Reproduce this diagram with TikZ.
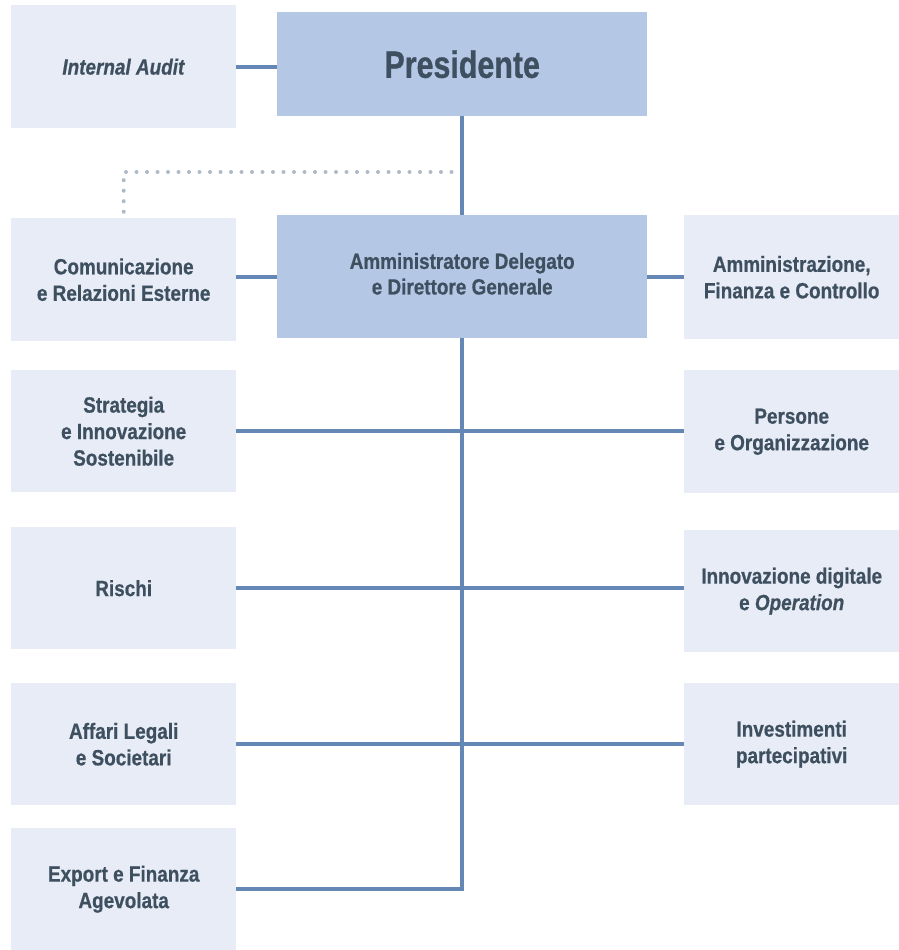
\documentclass[tikz,border=0pt]{standalone}
\usepackage{fontspec}
\setmainfont{Liberation Sans}[FakeStretch=0.86, BoldFeatures={FakeBold=0.6}, BoldItalicFeatures={FakeBold=0.6}]
\newfontfamily\titlefont{Liberation Sans}[FakeStretch=0.8, BoldFeatures={FakeBold=0.8}]
\usetikzlibrary{positioning}
\definecolor{boxlight}{HTML}{E7ECF6}
\definecolor{boxdark}{HTML}{B4C8E6}
\definecolor{linkblue}{HTML}{6487B5}
\definecolor{textslate}{HTML}{3E5060}
\definecolor{dotgrey}{HTML}{B0BAC4}
\tikzset{
  unit/.style={fill=boxlight, minimum width=225pt, minimum height=123pt, inner sep=0pt,
    anchor=north west, align=center, text=textslate, font=\bfseries\fontsize{22}{26.5}\selectfont},
  unitright/.style={unit, minimum width=215pt},
  head/.style={unit, fill=boxdark, minimum width=370pt},
  link/.style={linkblue, line width=4pt},
  staff/.style={dotgrey, line width=4pt, line cap=round, dash pattern=on 0pt off 10.5pt}
}

\begin{document}
\begin{tikzpicture}[x=1pt,y=-1pt]
\useasboundingbox (0,0) rectangle (899,950);
% top level
\node[head, minimum height=104pt, font=\titlefont\bfseries\fontsize{38}{44}\selectfont](pres) at (277,12){Presidente};
\node[unit](audit) at (11,5){\textit{Internal Audit}};
\node[head](ad) at (277,215){\raisebox{6pt}{\shortstack{Amministratore Delegato\\[2pt]e Direttore Generale}}};
% left column
\node[unit](com) at (11,218){Comunicazione\\e Relazioni Esterne};
\node[unit, minimum height=122pt](strat) at (11,370){Strategia\\e Innovazione\\Sostenibile};
\node[unit, minimum height=122pt](risk) at (11,527){Rischi};
\node[unit, minimum height=122pt](legal) at (11,683){Affari Legali\\e Societari};
\node[unit, minimum height=122pt](export) at (11,828){Export e Finanza\\Agevolata};
% right column
\node[unitright, minimum height=124pt](afc) at (684,215){Amministrazione,\\Finanza e Controllo};
\node[unitright](pers) at (684,370){Persone\\e Organizzazione};
\node[unitright, minimum height=122pt](digit) at (684,530){Innovazione digitale\\e \textit{Operation}};
\node[unitright, minimum height=122pt](invest) at (684,683){Investimenti\\partecipativi};

% connectors
\coordinate (dotjoin) at (462,172);
\draw[staff](dotjoin)-|(com.north);
\draw[link](audit.east)--(audit.east-|pres.west);
\draw[link](pres.south)--(ad.north);
\draw[link](ad.south)|-(export.east);
\draw[link](ad.west-|com.east)--(ad.west);
\draw[link](ad.east)--(ad.east-|afc.west);
\draw[link](strat.east)--(strat.east-|pers.west);
\draw[link](risk.east)--(risk.east-|digit.west);
\draw[link](legal.east)--(legal.east-|invest.west);
\end{tikzpicture}
\end{document}
